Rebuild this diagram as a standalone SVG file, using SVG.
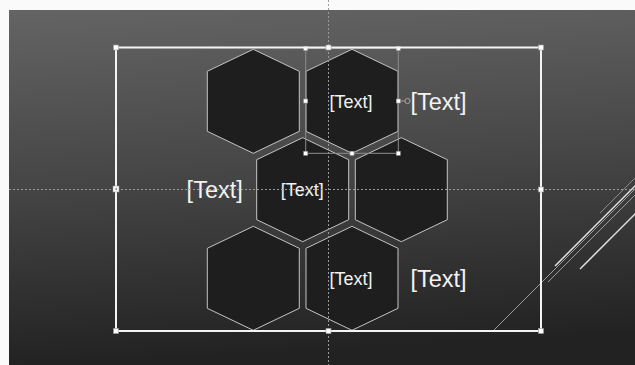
<svg xmlns="http://www.w3.org/2000/svg" xmlns:xlink="http://www.w3.org/1999/xlink" width="635" height="365" viewBox="0 0 635 365">
<defs>
<linearGradient id="bg" x1="0" y1="0" x2="0.1" y2="1">
<stop offset="0" stop-color="#646464"/>
<stop offset="0.5" stop-color="#454545"/>
<stop offset="1" stop-color="#222222"/>
</linearGradient>
<polygon id="hex" points="0,-52 46,-30 46,30 0,52 -46,30 -46,-30"/>
</defs>
<style>
.hx{fill:#1e1e1e;stroke:#c4c4c4;stroke-width:1}
.guide{stroke:#9a9a9a;stroke-width:1;stroke-dasharray:2 2;fill:none}
.sm{font-family:"Liberation Sans",Arial,sans-serif;font-size:18px;fill:#f2f2f2;text-anchor:middle}
.lg{font-family:"Liberation Sans",Arial,sans-serif;font-size:23.5px;fill:#f2f2f2;text-anchor:middle}
.h{fill:#ffffff;stroke:#9a9a9a;stroke-width:0.6}
.deco{fill:none}
</style>
<rect x="0" y="0" width="635" height="365" fill="#fafafa"/>
<rect x="9" y="10" width="626" height="355" fill="url(#bg)"/>
<g id="decor-lines" class="deco">
<line x1="600" y1="213" x2="640" y2="173" stroke="#8a8a8a" stroke-width="1"/>
<line x1="555" y1="266" x2="640" y2="181" stroke="#e0e0e0" stroke-width="1.5"/>
<line x1="492" y1="332" x2="640" y2="184" stroke="#9a9a9a" stroke-width="1"/>
<line x1="548" y1="282" x2="640" y2="190" stroke="#9a9a9a" stroke-width="1"/>
<line x1="580" y1="269" x2="640" y2="209" stroke="#dedede" stroke-width="1.5"/>
</g>
<g id="hex1"><use xlink:href="#hex" class="hx" x="253.3" y="101.3"/></g>
<g id="hex2"><use xlink:href="#hex" class="hx" x="352" y="101.3"/><text class="sm" x="351" y="107.5">[Text]</text></g>
<g id="hex3"><use xlink:href="#hex" class="hx" x="302.7" y="189.7"/><text class="sm" x="302.3" y="196">[Text]</text></g>
<g id="hex4"><use xlink:href="#hex" class="hx" x="401.3" y="189.7"/></g>
<g id="hex5"><use xlink:href="#hex" class="hx" x="253.3" y="278.3"/></g>
<g id="hex6"><use xlink:href="#hex" class="hx" x="352" y="278.3"/><text class="sm" x="351" y="285">[Text]</text></g>
<g id="label-top"><text class="lg" x="438.5" y="109.5">[Text]</text></g>
<g id="label-mid"><text class="lg" x="214.7" y="198">[Text]</text></g>
<g id="label-bot"><text class="lg" x="438.5" y="287">[Text]</text></g>
<g id="guides">
<line class="guide" x1="328.5" y1="0" x2="328.5" y2="365"/>
<line class="guide" x1="9" y1="189.5" x2="635" y2="189.5"/>
</g>
<g id="connectors">
<rect x="305.7" y="48.5" width="92.6" height="104.8" fill="none" stroke="#8c8c8c" stroke-width="1"/>
<line x1="398.3" y1="101" x2="405" y2="101" stroke="#9a9a9a" stroke-width="1"/>
<circle cx="407.5" cy="101" r="2.6" fill="none" stroke="#a8a8a8" stroke-width="1"/>
<rect x="303.7" y="46.5" width="4" height="4" class="h"/>
<rect x="396.3" y="46.5" width="4" height="4" class="h"/>
<rect x="303.7" y="99" width="4" height="4" class="h"/>
<rect x="396.3" y="99" width="4" height="4" class="h"/>
<rect x="303.7" y="151.3" width="4" height="4" class="h"/>
<rect x="350" y="151.3" width="4" height="4" class="h"/>
<rect x="396.3" y="151.3" width="4" height="4" class="h"/>
<rect x="116" y="47.5" width="425" height="283.5" fill="none" stroke="#f4f4f4" stroke-width="2"/>
<rect x="113.5" y="45" width="5" height="5" class="h"/>
<rect x="326" y="45" width="5" height="5" class="h"/>
<rect x="538.5" y="45" width="5" height="5" class="h"/>
<rect x="113" y="186" width="6" height="6" class="h"/>
<path d="M117,187.5 L114.8,189 L117,190.5 Z" fill="#888"/>
<rect x="538.5" y="187" width="5" height="5" class="h"/>
<rect x="113.5" y="328.5" width="5" height="5" class="h"/>
<rect x="326" y="328.5" width="5" height="5" class="h"/>
<rect x="538.5" y="328.5" width="5" height="5" class="h"/>
</g>
</svg>
